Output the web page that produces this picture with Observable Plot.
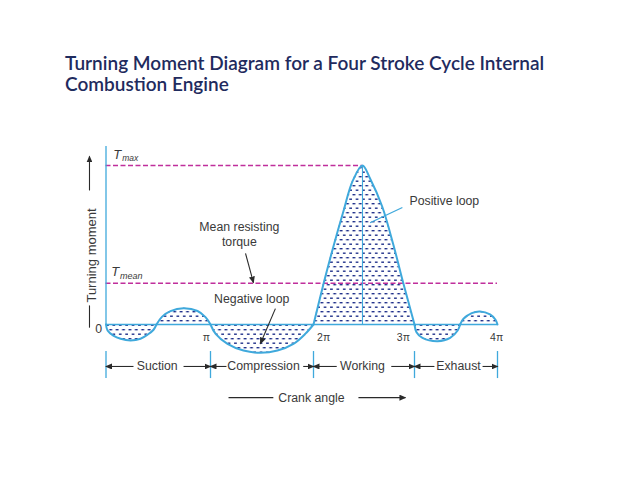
<!DOCTYPE html>
<html><head><meta charset="utf-8">
<script src="https://cdn.jsdelivr.net/npm/d3@7"></script>
<script src="https://cdn.jsdelivr.net/npm/@observablehq/plot@0.6"></script>
<style>
html,body{margin:0;padding:0;background:#fff;overflow:hidden}
#title{height:130px;box-sizing:border-box;padding:52px 0 0 65px;font:600 19px/21px Lato,sans-serif;color:#1f2b5e}
svg{display:block}
</style></head><body>
<div id="title">Turning Moment Diagram for a Four Stroke Cycle Internal<br>Combustion Engine</div>
<script>
// angle is in units of pi; T is in percent of Tmax
const suctionAngle = [0,.015,.07,.14,.235,.33,.4,.455,.483];
const suctionT = [0,-3.8,-7,-9,-10,-9,-6.3,-3.3,0];
const suctionUpAngle = [.483,.535,.617,.742,.876,.952,1];
const suctionUpT = [0,4.8,8.4,10.2,8.5,4.6,0];
const compressionAngle = [1,1.05,1.165,1.32,1.485,1.65,1.805,1.92,2];
const compressionT = [0,-5.9,-12.2,-16.4,-17.8,-16.4,-12.2,-5.9,0];
const workingAngle = [2,2.1,2.2,2.29,2.39,2.485,2.56,2.68,2.79,2.89,3];
const workingT = [0,25.8,49.7,69.8,90.6,100,91.8,74.2,50.3,25.8,0];
const exhaustAngle = [3,3.024,3.096,3.28,3.43,3.52,3.55];
const exhaustT = [0,-4.8,-8.4,-10.5,-8.4,-3.8,0];
const exhaustUpAngle = [3.55,3.59,3.69,3.79,3.91,3.976,4];
const exhaustUpT = [0,3.6,7.2,8.2,6.3,3,0];
const Tmax = 100, Tmean = 26;
const peakAngle = 2.485;
const strokeEdges = [0,1,2,3,4];
const piLabels = ["π","2π","3π","4π"];
const piLabelAngles = [.96,2.1,2.89,3.99];
const strokeNames = ["Suction","Compression","Working","Exhaust"];
const strokeNameAngles = [.49,1.515,2.485,3.53];
const arrowFrom = [.263,.742,1.155,1.9,2.23,2.77,3.24,3.82];
const arrowTo = [0,1,1,2,2,3,3,4];

const loops = [[suctionAngle,suctionT],[suctionUpAngle,suctionUpT],[compressionAngle,compressionT],
  [workingAngle,workingT],[exhaustAngle,exhaustT],[exhaustUpAngle,exhaustUpT]]
  .flatMap(([a,t],i)=>a.map((x,j)=>({x,t:t[j],loop:i})));

const blue="#3fa9dc", ink="#2a2a2a", label="#3a3a3a", magenta="#c02f9c";
const font="Liberation Sans, Arial, sans-serif";

function head(color, context){
  const ns="http://www.w3.org/2000/svg";
  const m=context.document.createElementNS(ns,"marker");
  m.setAttribute("viewBox","-6 -3 7 6");m.setAttribute("markerWidth",7);m.setAttribute("markerHeight",6);
  m.setAttribute("markerUnits","userSpaceOnUse");m.setAttribute("orient","auto");
  const p=context.document.createElementNS(ns,"path");
  p.setAttribute("d","M-6,-3L1,0L-6,3Z");p.setAttribute("fill",ink);p.setAttribute("stroke","none");
  m.appendChild(p);return m;
}
function defs(){
  const ns="http://www.w3.org/2000/svg";
  const d=document.createElementNS(ns,"defs");
  const p=document.createElementNS(ns,"pattern");
  p.id="stipple";p.setAttribute("width",6.4);p.setAttribute("height",9);p.setAttribute("patternUnits","userSpaceOnUse");
  for(const [x,y] of [[.5,1],[3.7,5.5]]){
    const r=document.createElementNS(ns,"rect");
    r.setAttribute("x",x);r.setAttribute("y",y);r.setAttribute("width",2.8);r.setAttribute("height",1.4);r.setAttribute("fill","#1f2f8a");
    p.appendChild(r);
  }
  d.appendChild(p);return d;
}
const txt=(s,x,y,o={})=>Plot.text([s],{x:()=>x,y:()=>y,text:d=>d,fontFamily:font,fontSize:12.3,fill:label,...o});
const seg=(x1,y1,x2,y2,o={})=>Plot.link([0],{x1:()=>x1,y1:()=>y1,x2:()=>x2,y2:()=>y2,stroke:ink,strokeWidth:1.1,...o});

const chart=Plot.plot({
  width:638,height:349,
  x:{type:"linear",domain:[0,1,2,3,4],range:[105.5,210,313,414,497],axis:null},
  y:{type:"linear",domain:[0,100],range:[194,35],axis:null},
  marks:[
    defs,
    Plot.areaY(loops,{x:"x",y1:0,y2:"t",z:"loop",fill:"url(#stipple)",curve:"catmull-rom"}),
    Plot.ruleY([Tmax],{x1:0,x2:peakAngle,stroke:magenta,strokeWidth:1.5,strokeDasharray:"5,2.5"}),
    Plot.ruleY([Tmean],{x1:0,x2:4,stroke:magenta,strokeWidth:1.5,strokeDasharray:"5,2.5"}),
    Plot.ruleY([0],{x1:0,x2:4,stroke:blue,strokeWidth:1.6}),
    Plot.ruleX([0],{y1:0,y2:112,stroke:blue,strokeWidth:1.3}),
    Plot.ruleX([peakAngle],{y1:0,y2:Tmax,stroke:blue,strokeWidth:1.1}),
    Plot.line(loops,{x:"x",y:"t",z:"loop",stroke:blue,strokeWidth:2,curve:"catmull-rom"}),
    Plot.ruleX(strokeEdges,{y1:-17,y2:-34,stroke:blue,strokeWidth:1.3}),
    Plot.link(arrowFrom,{x1:d=>d,x2:(d,i)=>arrowTo[i],y1:()=>-26.4,y2:()=>-26.4,stroke:ink,strokeWidth:1.1,markerEnd:head}),
    Plot.text(strokeNames,{x:(d,i)=>strokeNameAngles[i],y:()=>-26.4,text:d=>d,fontFamily:font,fontSize:12.3,fill:label}),
    Plot.text(piLabels,{x:(d,i)=>piLabelAngles[i],y:()=>-8.2,text:d=>d,fontFamily:font,fontSize:10.5,fill:label}),
    txt("0",-.07,-3),
    txt("T",.07,106.9,{fontStyle:"italic",fontSize:13,textAnchor:"start"}),
    txt("max",.155,104.4,{fontStyle:"italic",fontSize:8.5,textAnchor:"start"}),
    txt("T",.05,33.3,{fontStyle:"italic",fontSize:13,textAnchor:"start"}),
    txt("mean",.135,30.2,{fontStyle:"italic",fontSize:9,textAnchor:"start"}),
    txt("Mean resisting\ntorque",1.28,57,{lineHeight:1.25}),
    seg(1.34,44.7,1.417,26.4,{markerEnd:head}),
    txt("Negative loop",1.4,15.7),
    seg(1.63,10,1.485,-12,{markerEnd:head}),
    txt("Positive loop",2.95,77.4,{textAnchor:"start"}),
    seg(2.88,73.6,2.56,64,{stroke:blue,strokeWidth:1.3}),
    txt("Turning moment",-.14,43.4,{rotate:-90,fontSize:13}),
    seg(-.158,84.3,-.158,105.7,{markerEnd:head}),
    seg(-.158,12,-.158,-2),
    seg(1.175,-46,1.61,-46),
    txt("Crank angle",1.98,-46),
    seg(2.445,-46,2.91,-46,{markerEnd:head})
  ]
});
document.body.appendChild(chart);
</script>
</body></html>
